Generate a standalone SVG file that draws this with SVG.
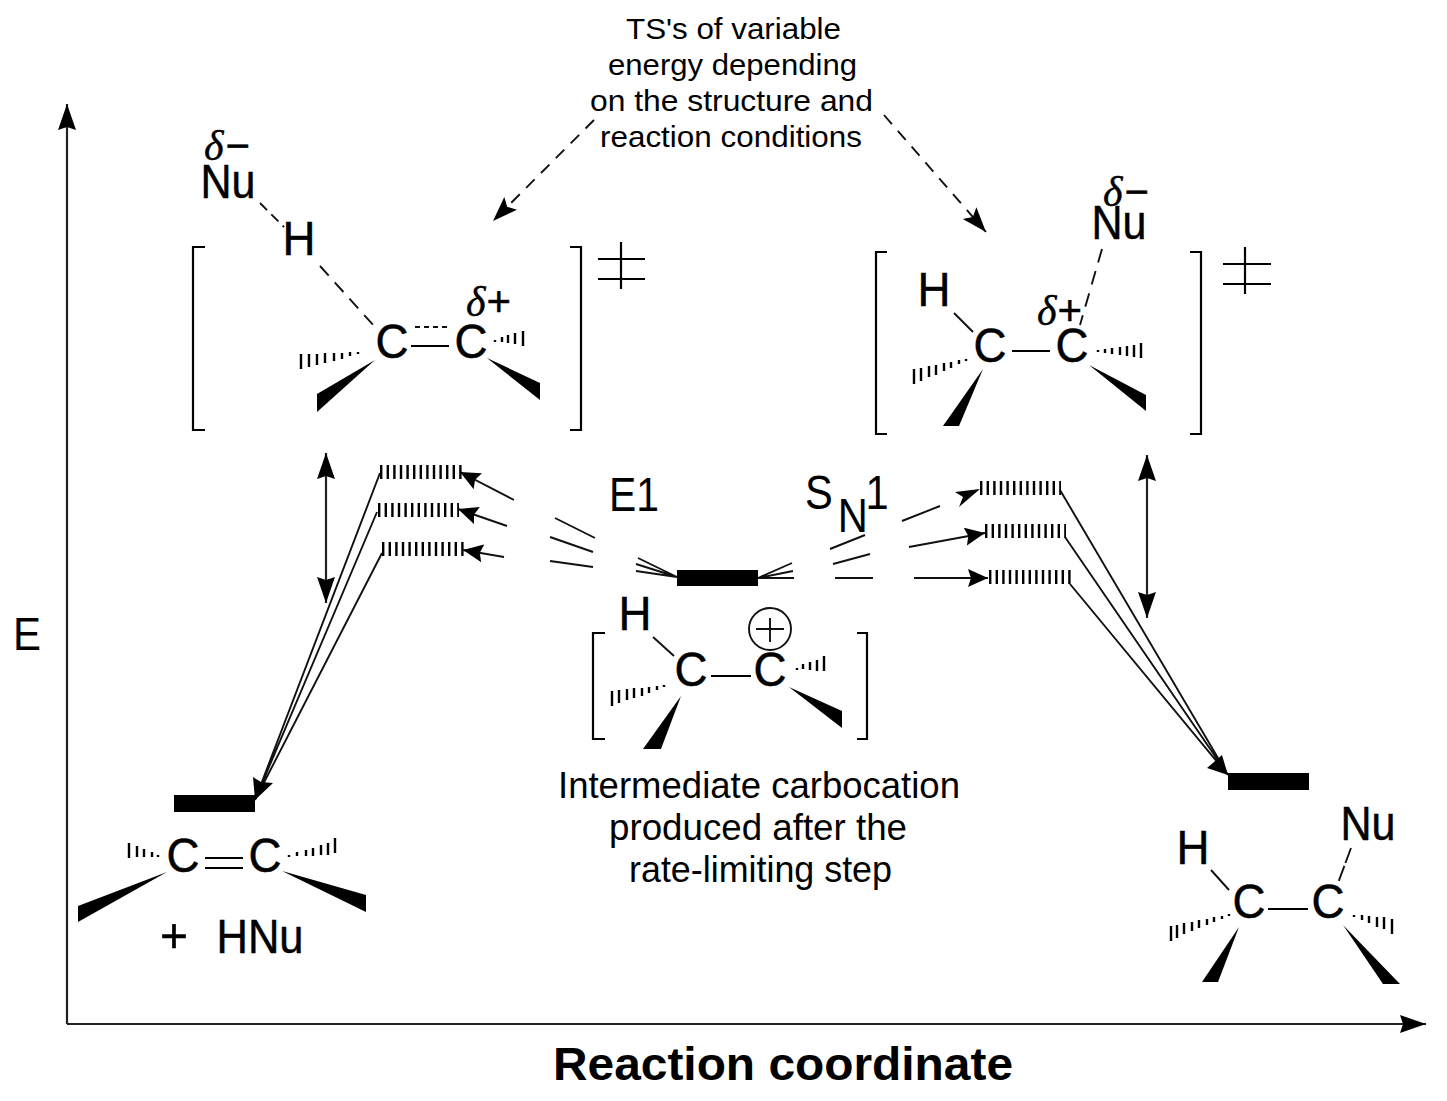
<svg xmlns="http://www.w3.org/2000/svg" width="1447" height="1101" viewBox="0 0 1447 1101">
<style>
text{font-family:"Liberation Sans",Arial,sans-serif;fill:#000}
.a{font-size:49px;text-anchor:middle;stroke:#000;stroke-width:.5}
.l{font-size:30px;text-anchor:start}
.i{font-size:36px;text-anchor:start}
.t{font-size:47px;font-weight:bold}
.d{font-family:"Liberation Serif",serif;font-style:italic;font-size:42px;stroke:#000;stroke-width:.4}
.p{font-family:"Liberation Sans",sans-serif;font-style:normal;font-size:42px}
.b,.h,.n{fill:none;stroke:#000}
.b{stroke-width:2.2}
.h{stroke-width:2.4}
.n{stroke-width:2.2;stroke:#222}
.dsh{stroke-dasharray:12 9}
.lv{fill:none;stroke:#000;stroke-width:14;stroke-dasharray:2.4 4.2}
.bar{fill:#000}
.c{fill:none;stroke:#111;stroke-width:1.9}
.w{fill:#000}
</style>
<defs>
<marker id="ah" markerUnits="userSpaceOnUse" markerWidth="24" markerHeight="20" refX="20" refY="9" orient="auto-start-reverse"><path d="M0 0L20 9L0 18L3 9Z" fill="#000"/></marker>
<marker id="al" markerUnits="userSpaceOnUse" markerWidth="30" markerHeight="20" refX="26" refY="9" orient="auto-start-reverse"><path d="M0 0L26 9L0 18L3 9Z" fill="#000"/></marker>
<marker id="ad" markerUnits="userSpaceOnUse" markerWidth="28" markerHeight="20" refX="25" refY="9" orient="auto"><path d="M0 0L25 9L0 18L5 9Z" fill="#000"/></marker>
</defs>
<rect width="1447" height="1101" fill="#fff"/>

<g id="connectors">
<path class="n" d="M67 1024V104" marker-end="url(#al)"/>
<path class="n" d="M67 1024H1426" marker-end="url(#al)"/>
<path class="c dsh" d="M594 120L493 221" marker-end="url(#ad)"/>
<path class="c dsh" d="M884 115L986 232" marker-end="url(#ad)"/>
<path class="n" d="M326 453V603" marker-start="url(#al)" marker-end="url(#al)"/>
<path class="n" d="M1147 455V618" marker-start="url(#al)" marker-end="url(#al)"/>
<path class="c" d="M514 500L460 472" marker-end="url(#ah)"/>
<path class="c" d="M507 526L458 509" marker-end="url(#ah)"/>
<path class="c" d="M504 557L463 550" marker-end="url(#ah)"/>
<path class="c" d="M595 538L555 518M593 552L550 537M593 567L550 561"/>
<path class="c" d="M677 577L638 558M677 577L636 564M677 577L636 571"/>
<path class="c" d="M758 578L792 563M758 578L793 571M758 578L794 578"/>
<path class="c" d="M865 535L830 549M870 554L833 564M873 578L835 578"/>
<path class="c" d="M940 506L902 521"/>
<path class="w" d="M980 489L955 492L963 497L959 507Z"/>
<path class="c" d="M909 547L985 533" marker-end="url(#ah)"/>
<path class="c" d="M914 578L988 578" marker-end="url(#ah)"/>
<path class="c" d="M380 473L255 800M377 512L255 800M382 553L255 800" />
<path class="w" d="M255 800L253 777L261 782L273 783Z"/>
<path class="c" d="M1060 490L1228 775M1065 537L1228 775M1070 584L1228 775"/>
<path class="w" d="M1228 775L1207 768L1214 762L1222 755Z"/>
</g>

<g id="levels">
<path class="lv" d="M380 472H462"/>
<path class="lv" d="M378 510H459"/>
<path class="lv" d="M382 549H464"/>
<path class="lv" d="M980 488H1061"/>
<path class="lv" d="M985 531H1066"/>
<path class="lv" d="M989 577H1071"/>
<rect class="bar" x="677" y="570" width="81" height="16"/>
<rect class="bar" x="174" y="795" width="81" height="17"/>
<rect class="bar" x="1228" y="773" width="81" height="17"/>
</g>

<g id="ts-left">
<path class="b" d="M205 247H193V430H205M570 247H581V430H570"/>
<path class="b" d="M621 242V289M598 259H645M598 279H645"/>
<text class="d" x="204" y="160">δ<tspan class="p" dx="2">−</tspan></text>
<text class="a" x="228" y="198" textLength="55" lengthAdjust="spacingAndGlyphs">Nu</text>
<text class="a" x="299" y="255" textLength="33" lengthAdjust="spacingAndGlyphs">H</text>
<text class="a" x="392" y="358" textLength="33" lengthAdjust="spacingAndGlyphs">C</text>
<text class="a" x="471" y="358" textLength="33" lengthAdjust="spacingAndGlyphs">C</text>
<text class="d" x="466" y="316">δ<tspan class="p" dx="1">+</tspan></text>
<path class="c" d="M260 203L284 227" stroke-dasharray="10 6"/>
<path class="c" d="M320 266L375 327" stroke-dasharray="13 9"/>
<path class="b" d="M411 346H449"/>
<path class="c" d="M415 327H449" stroke-dasharray="5 4"/>
<path class="h" d="M358 352v2M350 352v4M342 353v6M334 353v8M325 353v10M317 354v11M309 354v13M301 354v15M495 340v2M502 337v5M508 335v8M515 333v11M523 331v15"/>
<path class="w" d="M375 360L317 394V412Z"/>
<path class="w" d="M487 358L540 383V400Z"/>
</g>

<g id="ts-right">
<path class="b" d="M887 252H876V434H887M1190 252H1201V434H1190"/>
<path class="b" d="M1245 247V294M1223 264H1271M1223 284H1271"/>
<text class="d" x="1103" y="206">δ<tspan class="p" dx="2">−</tspan></text>
<text class="a" x="1119" y="239" textLength="55" lengthAdjust="spacingAndGlyphs">Nu</text>
<text class="a" x="934" y="306" textLength="33" lengthAdjust="spacingAndGlyphs">H</text>
<text class="a" x="990" y="362" textLength="33" lengthAdjust="spacingAndGlyphs">C</text>
<text class="a" x="1072" y="362" textLength="33" lengthAdjust="spacingAndGlyphs">C</text>
<text class="d" x="1037" y="325">δ<tspan class="p" dx="1">+</tspan></text>
<path class="c" d="M1102 249L1080 325" stroke-dasharray="14 9"/>
<path class="c" d="M954 313L973 332"/>
<path class="b" d="M1012 351H1050"/>
<path class="h" d="M966 359v2M959 360v4M951 362v6M944 363v8M936 365v10M929 366v11M921 368v13M914 369v15M1098 350v2M1105 349v4M1112 348v6M1120 347v8M1127 346v10M1134 345v12M1141 343v15"/>
<path class="w" d="M983 369L943 426H959Z"/>
<path class="w" d="M1089 365L1146 395V411Z"/>
</g>

<g id="carbocation">
<path class="b" d="M605 633H593V739H605M857 633H867V739H857"/>
<text class="a" x="635" y="630" textLength="33" lengthAdjust="spacingAndGlyphs">H</text>
<text class="a" x="691" y="686" textLength="33" lengthAdjust="spacingAndGlyphs">C</text>
<text class="a" x="770" y="686" textLength="33" lengthAdjust="spacingAndGlyphs">C</text>
<circle class="c" cx="770" cy="629" r="21"/>
<path class="c" d="M756 629H784M770 618V642"/>
<path class="c" d="M653 637L674 656"/>
<path class="b" d="M711 676H751"/>
<path class="h" d="M664 685v2M657 686v4M649 687v6M642 688v8M634 688v10M627 689v11M619 690v13M612 691v15M797 668v2M803 664v5M810 662v8M817 660v11M824 656v15"/>
<path class="w" d="M681 696L643 749H661Z"/>
<path class="w" d="M789 687L842 711V728Z"/>
</g>

<g id="product-left">
<text class="a" x="183" y="872" textLength="33" lengthAdjust="spacingAndGlyphs">C</text>
<text class="a" x="265" y="872" textLength="33" lengthAdjust="spacingAndGlyphs">C</text>
<path class="b" d="M205 858H243M205 868H243"/>
<path class="h" d="M158 855v2M152 852v5M144 849v8M137 846v11M129 843v15M289 855v2M297 852v4M306 850v6M313 848v8M321 845v10M328 843v12M335 838v15"/>
<path class="w" d="M167 872L78 906V922Z"/>
<path class="w" d="M282 871L366 895V912Z"/>
<text class="a" x="174" y="952" textLength="28" lengthAdjust="spacingAndGlyphs">+</text>
<text class="a" x="260" y="953" textLength="87" lengthAdjust="spacingAndGlyphs">HNu</text>
</g>

<g id="product-right">
<text class="a" x="1193" y="864" textLength="33" lengthAdjust="spacingAndGlyphs">H</text>
<text class="a" x="1368" y="840" textLength="55" lengthAdjust="spacingAndGlyphs">Nu</text>
<text class="a" x="1249" y="918" textLength="33" lengthAdjust="spacingAndGlyphs">C</text>
<text class="a" x="1328" y="918" textLength="33" lengthAdjust="spacingAndGlyphs">C</text>
<path class="b" d="M1268 909H1308"/>
<path class="c" d="M1211 870L1229 890"/>
<path class="c" d="M1351 848L1338 883" stroke-dasharray="16 3"/>
<path class="h" d="M1229 914v2M1222 916v3M1214 917v5M1207 919v6M1199 920v8M1192 922v9M1184 923v11M1177 925v13M1171 926v15M1354 915v2M1362 915v5M1369 916v7M1377 917v10M1384 917v12M1392 919v15"/>
<path class="w" d="M1239 927L1202 982H1218Z"/>
<path class="w" d="M1343 925L1383 984H1400Z"/>
</g>

<g id="labels">
<text class="l" x="626" y="39" textLength="215" lengthAdjust="spacingAndGlyphs">TS's of variable</text>
<text class="l" x="608" y="75" textLength="249" lengthAdjust="spacingAndGlyphs">energy depending</text>
<text class="l" x="590" y="111" textLength="283" lengthAdjust="spacingAndGlyphs">on the structure and</text>
<text class="l" x="600" y="147" textLength="262" lengthAdjust="spacingAndGlyphs">reaction conditions</text>
<text x="13" y="650" font-size="46" textLength="28" lengthAdjust="spacingAndGlyphs">E</text>
<text x="609" y="511" font-size="49" textLength="50" lengthAdjust="spacingAndGlyphs">E1</text>
<text x="0" y="0" font-size="49" transform="translate(805 509) scale(.85 1)">S<tspan dx="6" dy="23">N</tspan><tspan dx="-3" dy="-23">1</tspan></text>
<text class="i" x="558" y="798" textLength="402" lengthAdjust="spacingAndGlyphs">Intermediate carbocation</text>
<text class="i" x="609" y="840" textLength="298" lengthAdjust="spacingAndGlyphs">produced after the</text>
<text class="i" x="629" y="882" textLength="263" lengthAdjust="spacingAndGlyphs">rate-limiting step</text>
<text class="t" x="553" y="1080" textLength="460" lengthAdjust="spacingAndGlyphs">Reaction coordinate</text>
</g>
</svg>
